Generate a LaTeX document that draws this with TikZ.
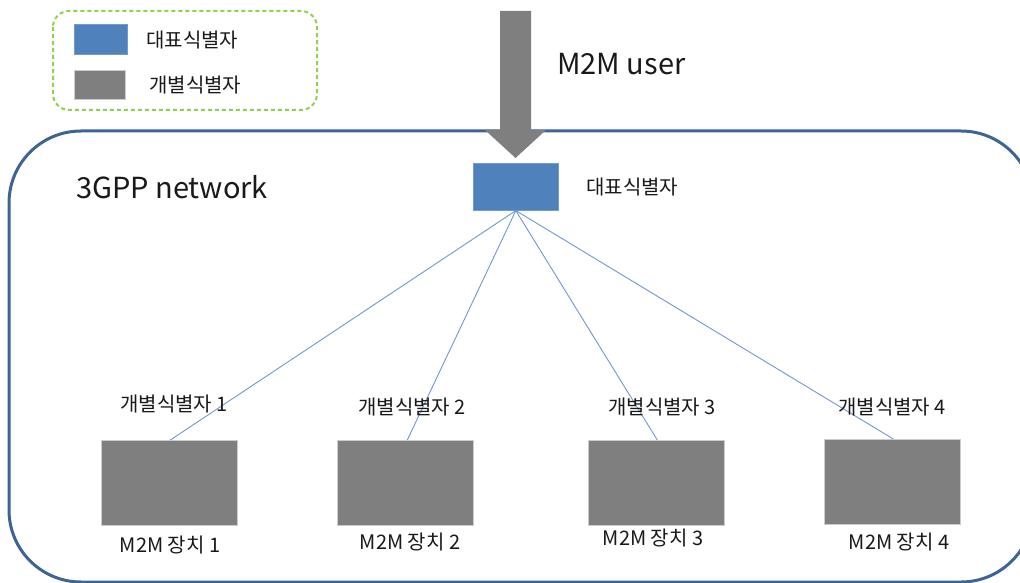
\documentclass[tikz,border=0pt]{standalone}
\usepackage{fontspec}
\setmainfont{Noto Sans CJK KR}
\definecolor{netblue}{HTML}{3E6496}
\definecolor{idblue}{HTML}{4F81BD}
\definecolor{devgray}{HTML}{7F7F7F}
\definecolor{linkblue}{HTML}{7098CC}
\definecolor{legendgreen}{HTML}{92D050}
\tikzset{
  lbl/.style={font=\fontsize{20}{22}\selectfont, inner sep=0pt, text=black!90},
  big/.style={font=\fontsize{29}{32}\selectfont, inner sep=0pt, text=black!90},
  dev/.style={fill=devgray, draw=black!20, line width=0.6pt, inner sep=0pt},
  rep/.style={fill=idblue, draw=idblue!80, line width=0.6pt, inner sep=0pt},
  link/.style={draw=linkblue, line width=0.9pt},
}
\begin{document}
\begin{tikzpicture}[x=1pt,y=-1pt]
\useasboundingbox (0,0) rectangle (1020,583);
\begin{scope}
\clip (0,0) rectangle (1020,583);
% network boundary
\draw[netblue, line width=3pt, rounded corners=72pt] (9,131) rectangle (1033,582);
\end{scope}
% legend
\draw[legendgreen, line width=2pt, dash pattern=on 4pt off 3pt, rounded corners=16pt] (53,11) rectangle (317,110);
\node[rep, minimum width=53pt, minimum height=30pt, anchor=north west] (lgrep) at (74,24) {};
\node[dev, minimum width=51pt, minimum height=29pt, anchor=north west] (lgdev) at (74,70) {};
\node[lbl, anchor=west] (lgreptxt) at (146,40) {대표식별자};
\node[lbl, anchor=west] (lgdevtxt) at (149,85) {개별식별자};
% big arrow
\fill[devgray] (500,11) -- (531,11) -- (531,130) -- (546,130) -- (515.5,158) -- (485,130) -- (500,130) -- cycle;
\node[big, anchor=west] (user) at (557,64) {M2M user};
\node[big, anchor=west] (net) at (76,187) {3GPP network};
% representative id
\node[rep, minimum width=85pt, minimum height=47pt, anchor=north west] (rep) at (473,163) {};
\node[lbl, anchor=west] (reptxt) at (586,187) {대표식별자};
% devices
\node[dev, minimum width=136pt, minimum height=85pt, anchor=north west] (d1) at (101,440) {};
\node[dev, minimum width=136pt, minimum height=85pt, anchor=north west] (d2) at (337,440) {};
\node[dev, minimum width=136pt, minimum height=85pt, anchor=north west] (d3) at (588,440) {};
\node[dev, minimum width=136pt, minimum height=85pt, anchor=north west] (d4) at (824,439) {};
% links
\draw[link] (rep.south) -- ([xshift=1pt]d1.north);
\draw[link] (rep.south) -- ([xshift=2pt]d2.north);
\draw[link] (rep.south) -- ([xshift=1pt]d3.north);
\draw[link] (rep.south) -- ([xshift=1pt]d4.north);
% labels
\node[lbl] (i1) at (174,404) {개별식별자 1};
\node[lbl] (i2) at (412,407) {개별식별자 2};
\node[lbl] (i3) at (662,407) {개별식별자 3};
\node[lbl] (i4) at (892,407) {개별식별자 4};
\node[lbl] (m1) at (170,545) {M2M 장치 1};
\node[lbl] (m2) at (410,542) {M2M 장치 2};
\node[lbl] (m3) at (653,538) {M2M 장치 3};
\node[lbl] (m4) at (899,542) {M2M 장치 4};
\end{tikzpicture}
\end{document}
